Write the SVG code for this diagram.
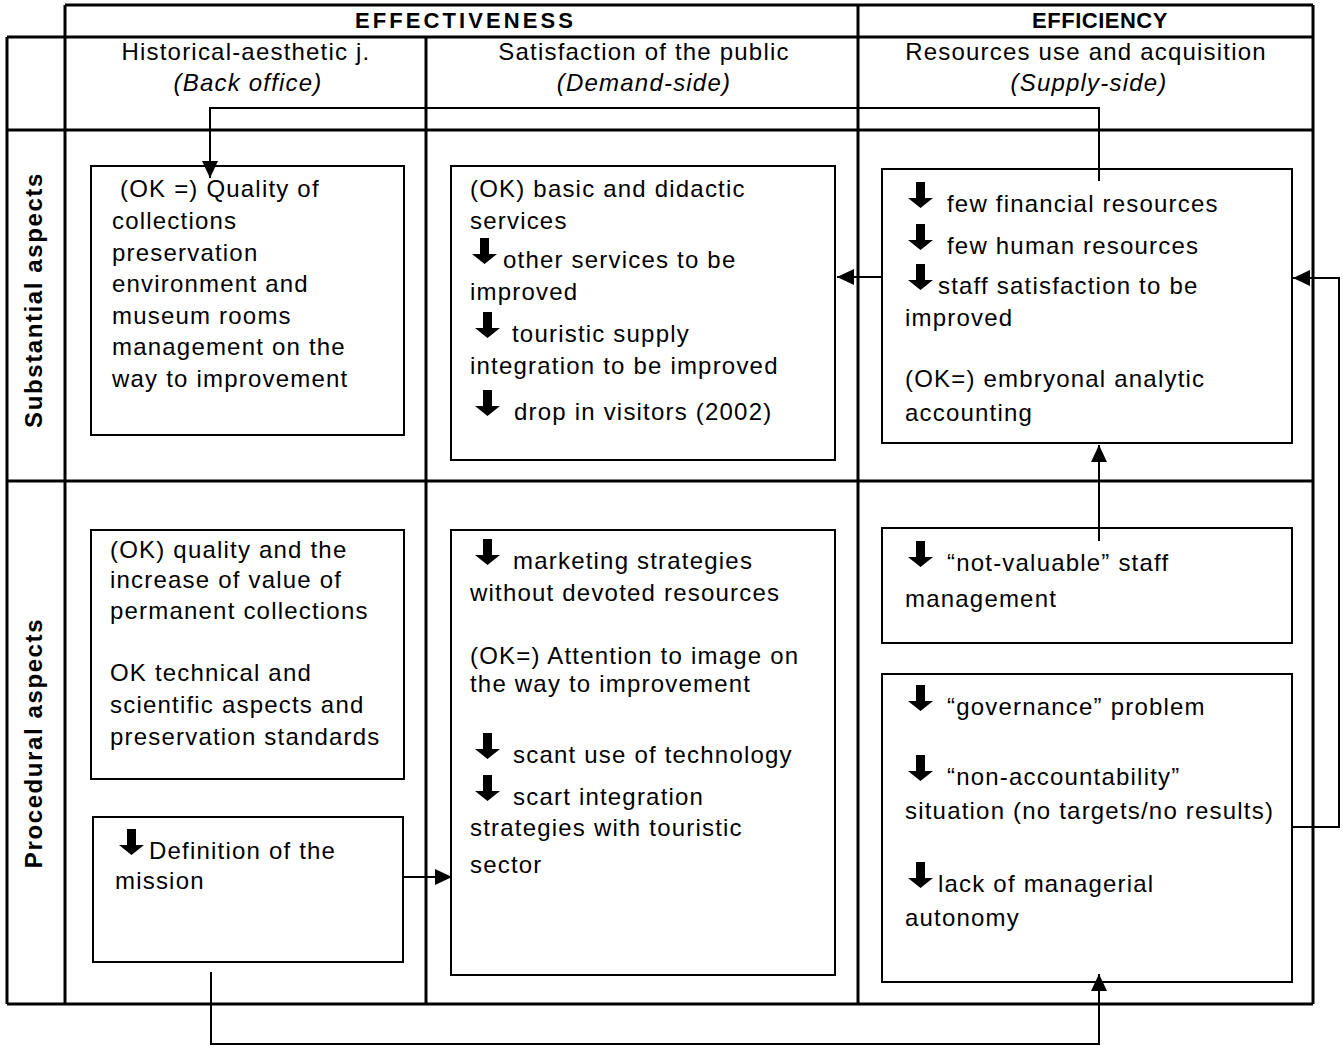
<svg xmlns="http://www.w3.org/2000/svg" width="1343" height="1046" viewBox="0 0 1343 1046">
<style>
.t{font-family:"Liberation Sans",Arial,sans-serif;font-size:24px;letter-spacing:1.2px;fill:#000}
.i{font-style:italic}
.c{text-anchor:middle}
.b{font-family:"Liberation Sans",Arial,sans-serif;font-weight:bold;fill:#000}
.grid{stroke:#000;stroke-width:3;fill:none}
.box{stroke:#000;stroke-width:2;fill:#fff}
.con{stroke:#000;stroke-width:2;fill:none}
</style>
<defs>
<marker id="ah" markerUnits="userSpaceOnUse" markerWidth="18" markerHeight="16" refX="17" refY="8" orient="auto">
<path d="M0,0 L17,8 L0,16 z" fill="#000"/>
</marker>
<symbol id="dn" viewBox="0 0 25 26">
<polygon points="8,0 17,0 17,16 25,16 12.5,26 0,16 8,16" fill="#000"/>
</symbol>
</defs>
<rect width="1343" height="1046" fill="#fff"/>

<g id="table" class="grid">
<path d="M65,5 H1313 M7,37 H1313 M7,130 H1313 M7,481 H1313 M7,1004 H1313"/>
<path d="M7,37 V1004 M65,5 V1004 M426,37 V1004 M858,5 V1004 M1313,5 V1004"/>
</g>

<g id="headers">
<text class="b" x="355" y="28" font-size="22" textLength="218" lengthAdjust="spacing">EFFECTIVENESS</text>
<text class="b c" x="1100" y="28" font-size="22" letter-spacing="0.5">EFFICIENCY</text>
<text class="t c" x="246" y="60">Historical-aesthetic j.</text>
<text class="t c i" x="248" y="91">(Back office)</text>
<text class="t c" x="644" y="60">Satisfaction of the public</text>
<text class="t c i" x="644" y="91">(Demand-side)</text>
<text class="t c" x="1086" y="60">Resources use and acquisition</text>
<text class="t c i" x="1089" y="91">(Supply-side)</text>
<text class="b c" font-size="24" letter-spacing="1.6" transform="translate(42,300) rotate(-90)">Substantial aspects</text>
<text class="b c" font-size="24" letter-spacing="1.6" transform="translate(42,743) rotate(-90)">Procedural aspects</text>
</g>

<g id="node-quality">
<rect class="box" x="91" y="166" width="313" height="269"/>
<text class="t" x="120" y="197">(OK =) Quality of</text>
<text class="t" x="112" y="229">collections</text>
<text class="t" x="112" y="261">preservation</text>
<text class="t" x="112" y="292">environment and</text>
<text class="t" x="112" y="324">museum rooms</text>
<text class="t" x="112" y="355">management on the</text>
<text class="t" x="112" y="387">way to improvement</text>
</g>

<g id="node-public">
<rect class="box" x="451" y="166" width="384" height="294"/>
<text class="t" x="470" y="197">(OK) basic and didactic</text>
<text class="t" x="470" y="229">services</text>
<use href="#dn" x="472" y="238" width="25" height="26"/>
<text class="t" x="503" y="268">other services to be</text>
<text class="t" x="470" y="300">improved</text>
<use href="#dn" x="475" y="312" width="25" height="26"/>
<text class="t" x="512" y="342">touristic supply</text>
<text class="t" x="470" y="374">integration to be improved</text>
<use href="#dn" x="475" y="390" width="25" height="26"/>
<text class="t" x="514" y="420">drop in visitors (2002)</text>
</g>

<g id="node-resources">
<rect class="box" x="882" y="169" width="410" height="274"/>
<use href="#dn" x="908" y="182" width="25" height="26"/>
<text class="t" x="947" y="212">few financial resources</text>
<use href="#dn" x="908" y="224" width="25" height="26"/>
<text class="t" x="947" y="254">few human resources</text>
<use href="#dn" x="908" y="264" width="25" height="26"/>
<text class="t" x="938" y="294">staff satisfaction to be</text>
<text class="t" x="905" y="326">improved</text>
<text class="t" x="905" y="387">(OK=) embryonal analytic</text>
<text class="t" x="905" y="421">accounting</text>
</g>

<g id="node-collections">
<rect class="box" x="91" y="530" width="313" height="249"/>
<text class="t" x="110" y="558">(OK) quality and the</text>
<text class="t" x="110" y="588">increase of value of</text>
<text class="t" x="110" y="619">permanent collections</text>
<text class="t" x="110" y="681">OK technical and</text>
<text class="t" x="110" y="713">scientific aspects and</text>
<text class="t" x="110" y="745">preservation standards</text>
</g>

<g id="node-mission">
<rect class="box" x="93" y="817" width="310" height="145"/>
<use href="#dn" x="119" y="829" width="25" height="26"/>
<text class="t" x="149" y="859">Definition of the</text>
<text class="t" x="115" y="889">mission</text>
</g>

<g id="node-marketing">
<rect class="box" x="451" y="530" width="384" height="445"/>
<use href="#dn" x="475" y="539" width="25" height="26"/>
<text class="t" x="513" y="569">marketing strategies</text>
<text class="t" x="470" y="601">without devoted resources</text>
<text class="t" x="470" y="664">(OK=) Attention to image on</text>
<text class="t" x="470" y="692">the way to improvement</text>
<use href="#dn" x="475" y="733" width="25" height="26"/>
<text class="t" x="513" y="763">scant use of technology</text>
<use href="#dn" x="475" y="775" width="25" height="26"/>
<text class="t" x="513" y="805">scart integration</text>
<text class="t" x="470" y="836">strategies with touristic</text>
<text class="t" x="470" y="873">sector</text>
</g>

<g id="node-staff">
<rect class="box" x="882" y="528" width="410" height="115"/>
<use href="#dn" x="908" y="541" width="25" height="26"/>
<text class="t" x="947" y="571">“not-valuable” staff</text>
<text class="t" x="905" y="607">management</text>
</g>

<g id="node-governance">
<rect class="box" x="882" y="674" width="410" height="308"/>
<use href="#dn" x="908" y="685" width="25" height="26"/>
<text class="t" x="947" y="715">“governance” problem</text>
<use href="#dn" x="908" y="755" width="25" height="26"/>
<text class="t" x="947" y="785">“non-accountability”</text>
<text class="t" x="905" y="819">situation (no targets/no results)</text>
<use href="#dn" x="908" y="862" width="25" height="26"/>
<text class="t" x="938" y="892">lack of managerial</text>
<text class="t" x="905" y="926">autonomy</text>
</g>

<g id="connectors" class="con">
<path d="M1099,181 V108 H210 V178" marker-end="url(#ah)"/>
<path d="M882,277 H837" marker-end="url(#ah)"/>
<path d="M1292,827 H1339 V278 H1293" marker-end="url(#ah)"/>
<path d="M1099,541 V445" marker-end="url(#ah)"/>
<path d="M403,877 H452" marker-end="url(#ah)"/>
<path d="M211,972 V1044 H1099 V974" marker-end="url(#ah)"/>
</g>
</svg>
